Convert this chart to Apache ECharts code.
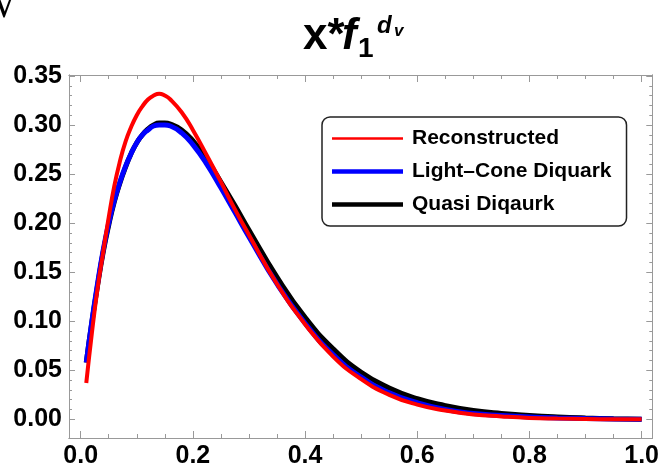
<!DOCTYPE html>
<html>
<head>
<meta charset="utf-8">
<script src="https://cdn.jsdelivr.net/npm/echarts@6/dist/echarts.min.js"></script>
<style>
html,body{margin:0;padding:0;background:#fff;}
#chart{width:662px;height:470px;}
</style>
</head>
<body>
<div id="chart"></div>
<script>
// ---- data ----
const xValues = [0.01,0.02,0.03,0.04,0.05,0.06,0.07,0.08,0.09,0.10,0.11,0.12,0.13,0.14,0.15,0.16,0.18,0.20,0.225,0.25,0.275,0.30,0.35,0.40,0.45,0.50,0.55,0.60,0.65,0.70,0.75,0.80,0.85,0.90,0.95,1.00];
const reconstructed = [0.037,0.088,0.133,0.170,0.206,0.238,0.263,0.283,0.298,0.310,0.319,0.326,0.330,0.332,0.330,0.326,0.313,0.295,0.269,0.242,0.214,0.188,0.138,0.097,0.064,0.041,0.025,0.015,0.009,0.005,0.003,0.0015,0.0008,0.0004,0.0001,0.0];
const lightCone = [0.058,0.100,0.138,0.172,0.200,0.223,0.242,0.258,0.271,0.282,0.290,0.295,0.299,0.300,0.300,0.299,0.292,0.280,0.260,0.236,0.211,0.186,0.138,0.098,0.066,0.043,0.027,0.017,0.010,0.006,0.004,0.0025,0.0015,0.0008,0.0003,0.0];
const quasi = [0.058,0.099,0.136,0.170,0.198,0.222,0.241,0.257,0.271,0.282,0.290,0.296,0.300,0.302,0.302,0.301,0.295,0.284,0.265,0.242,0.218,0.193,0.145,0.104,0.072,0.048,0.032,0.021,0.014,0.009,0.006,0.004,0.0025,0.0014,0.0006,0.0];
const seriesNames = ['Reconstructed','Light\u2013Cone Diquark','Quasi Diqaurk'];
const xTickLabels = [0,0.2,0.4,0.6,0.8,1.0];
const xMinorTicks = [0,0.05,0.1,0.15,0.2,0.25,0.3,0.35,0.4,0.45,0.5,0.55,0.6,0.65,0.7,0.75,0.8,0.85,0.9,0.95,1.0];
const yTickLabels = [0,0.05,0.10,0.15,0.20,0.25,0.30,0.35];
const yMinorTicks = [];
for (let i = 0; i <= 35; i++) yMinorTicks.push(i / 100);

const pairs = arr => xValues.map((x, i) => [x, arr[i]]);

const FONT = 'Liberation Sans';
const frameColor = '#999999';
const X_MIN = -0.0208, X_MAX = 1.019, Y_MIN = -0.019, Y_MAX = 0.351;

function xAx(pos, major, labels) {
  return {
    type: 'value', position: pos, min: X_MIN, max: X_MAX,
    axisLine: {show: true, onZero: false, lineStyle: {color: frameColor, width: 1}},
    axisTick: {show: true, inside: true, length: major ? 7 : 4,
      customValues: major ? xTickLabels : xMinorTicks, lineStyle: {color: frameColor}},
    axisLabel: {show: labels, customValues: xTickLabels, margin: 6,
      formatter: v => v.toFixed(1), color: '#000', fontWeight: 'bold', fontSize: 25, fontFamily: FONT},
    splitLine: {show: false}
  };
}
function yAx(pos, major, labels) {
  return {
    type: 'value', position: pos, min: Y_MIN, max: Y_MAX,
    axisLine: {show: true, onZero: false, lineStyle: {color: frameColor, width: 1}},
    axisTick: {show: true, inside: true, length: major ? 6 : 3,
      customValues: major ? yTickLabels : yMinorTicks, lineStyle: {color: frameColor}},
    axisLabel: {show: labels, customValues: yTickLabels, margin: 7,
      formatter: v => v.toFixed(2), color: '#000', fontWeight: 'bold', fontSize: 25, fontFamily: FONT},
    splitLine: {show: false}
  };
}

const thickIcon = 'path://M0,0 L71,0 L71,4.5 L0,4.5 Z';
const thinIcon = 'path://M0,0 L71,0 L71,2.6 L0,2.6 Z';

const chart = echarts.init(document.getElementById('chart'), null, {renderer: 'canvas'});
chart.setOption({
  animation: false,
  backgroundColor: '#fff',
  grid: {left: 69, right: 6, top: 75, bottom: 32, containLabel: false},
  xAxis: [xAx('bottom', true, true), xAx('bottom', false, false), xAx('top', true, false), xAx('top', false, false)],
  yAxis: [yAx('left', true, true), yAx('left', false, false), yAx('right', true, false), yAx('right', false, false)],
  legend: {
    orient: 'vertical', left: 322, top: 117,
    data: [
      {name: seriesNames[0], icon: thinIcon},
      {name: seriesNames[1], icon: thickIcon},
      {name: seriesNames[2], icon: thickIcon}
    ],
    itemWidth: 71, itemHeight: 14, itemGap: 12,
    padding: [11, 15, 11, 10],
    backgroundColor: '#fff', borderColor: '#222', borderWidth: 1.5, borderRadius: 8,
    textStyle: {color: '#000', fontWeight: 'bold', fontSize: 21, fontFamily: FONT, padding: [0, 0, 0, 4]}
  },
  graphic: [
    {type: 'text', x: -7, y: -13, style: {text: '\u221A', font: '40px "DejaVu Sans"', fill: '#000'}},
    {type: 'text', x: 303, y: 59, style: {text: 'x*', font: 'bold 44px "Liberation Sans"', fill: '#000', verticalAlign: 'bottom'}},
    {type: 'text', x: 342, y: 59, style: {text: 'f', font: 'italic bold 44px "Liberation Sans"', fill: '#000', verticalAlign: 'bottom'}},
    {type: 'text', x: 358, y: 63, style: {text: '1', font: 'bold 28px "Liberation Sans"', fill: '#000', verticalAlign: 'bottom'}},
    {type: 'text', x: 377, y: 38, style: {text: 'd', font: 'italic bold 24px "Liberation Sans"', fill: '#000', verticalAlign: 'bottom'}},
    {type: 'text', x: 394, y: 40, style: {text: 'v', font: 'italic bold 17px "Liberation Sans"', fill: '#000', verticalAlign: 'bottom'}}
  ],
  series: [
    {name: seriesNames[2], type: 'line', data: pairs(quasi), xAxisIndex: 0, yAxisIndex: 0, symbol: 'none', smooth: true,
      lineStyle: {color: '#000000', width: 5}, itemStyle: {color: '#000000'}, z: 2},
    {name: seriesNames[1], type: 'line', data: pairs(lightCone), xAxisIndex: 0, yAxisIndex: 0, symbol: 'none', smooth: true,
      lineStyle: {color: '#0000ff', width: 5}, itemStyle: {color: '#0000ff'}, z: 3},
    {name: seriesNames[0], type: 'line', data: pairs(reconstructed), xAxisIndex: 0, yAxisIndex: 0, symbol: 'none', smooth: true,
      lineStyle: {color: '#ff0000', width: 4}, itemStyle: {color: '#ff0000'}, z: 4}
  ]
});
</script>
</body>
</html>
